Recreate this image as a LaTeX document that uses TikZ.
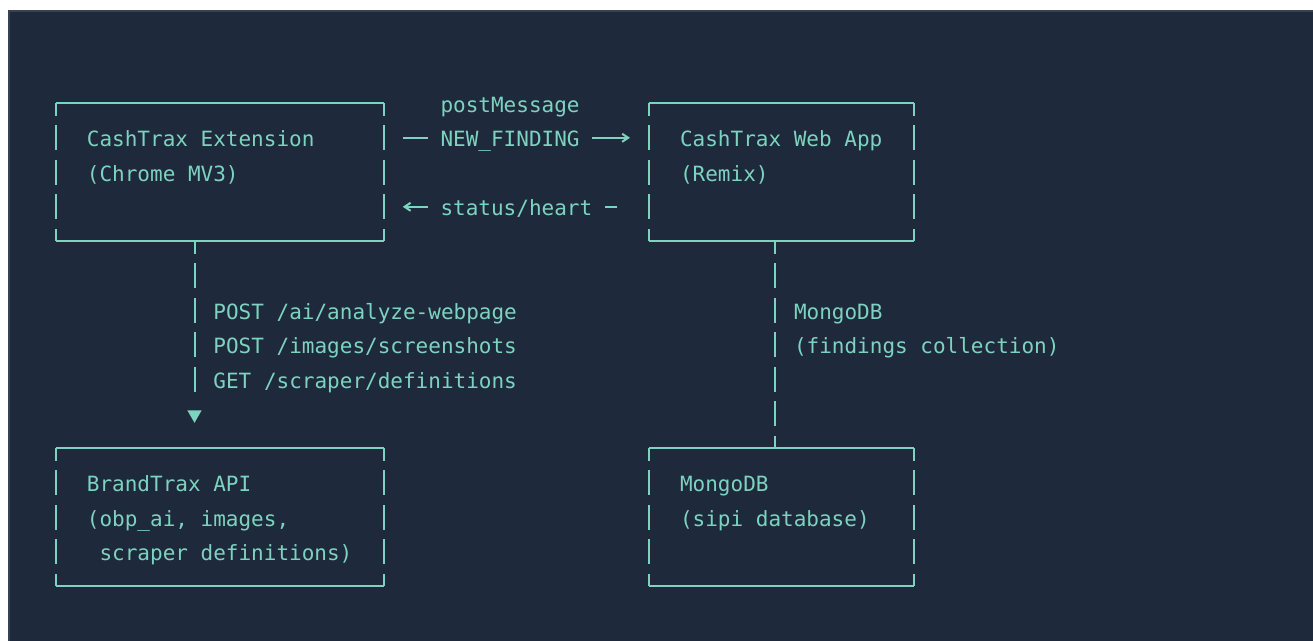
\documentclass[tikz,border=0pt]{standalone}
\usepackage{fontspec}
\setmonofont{DejaVu Sans Mono}
\usetikzlibrary{arrows.meta,shapes.geometric}

\definecolor{panel}{HTML}{1E293B}
\definecolor{panelrim}{HTML}{364152}
\definecolor{mint}{HTML}{7DD3C0}

\newcommand{\rs}{\rule[-4.175pt]{0pt}{17.25pt}}

\begin{document}
\begin{tikzpicture}[x=0.5pt,y=-0.5pt,
    every node/.style={font=\ttfamily\fontsize{10.5pt}{17.25pt}\selectfont, text=mint, inner sep=0pt, outer sep=0pt},
    sysbox/.style={minimum height=69pt, inner xsep=15.6pt, align=flush left},
    msg/.style={inner xsep=6.31pt, anchor=west},
    note/.style={anchor=west, align=left},
    wire/.style={draw=mint, line width=1pt},
    vdash/.style={dash pattern=on 12.5pt off 4.75pt, dash phase=6.25pt},
    tip/.style={-{Straight Barb[length=3pt,width=4pt]}}]
    \useasboundingbox (0,0) rectangle (1313,641);
    \fill[white] (0,0) rectangle (1313,641);
    \filldraw[fill=panel, draw=panelrim, line width=1pt] (8.5,11) rectangle (1330,660);

    % boxes
    \node[sysbox, text width=132.85pt] (ext) at (219.75,172.3) {\rs CashTrax Extension\\\rs(Chrome MV3)\\\rs};
    \node[sysbox, text width=101.31pt] (web) at (781.35,172.3) {\rs CashTrax Web App\\\rs(Remix)\\\rs};
    \node[sysbox, text width=132.85pt] (api) at (219.75,517.3) {\rs BrandTrax API\\\rs(obp\_ai, images,\\\rs\hphantom{(}scraper definitions)};
    \node[sysbox, text width=101.31pt] (db) at (781.35,517.3) {\rs MongoDB\\\rs(sipi database)\\\rs};
    \foreach \b in {ext,web,api,db}{
        \draw[wire] (\b.north west) -- (\b.north east);
        \draw[wire] (\b.south west) -- (\b.south east);
        \draw[wire,vdash] (\b.north west) -- (\b.south west);
        \draw[wire,vdash] (\b.north east) -- (\b.south east);
    }

    % messages between extension and web app
    \node[msg] (post) at (427.9,103.3) {\rs postMessage};
    \node[msg] (nf) at (427.9,137.8) {\rs NEW\_FINDING};
    \node[msg] (sh) at (427.9,206.8) {\rs status/heart};
    \draw[wire, shorten <=9.5pt] (ext.east |- nf) -- (nf.west);
    \draw[wire, tip, shorten >=9.45pt] (nf.east) -- (web.west |- nf);
    \draw[wire, shorten <=15.77pt] (web.west |- sh) -- (sh.east);
    \draw[wire, tip, shorten >=9.5pt] (sh.west) -- (ext.east |- sh);

    % extension -> api
    \node[fill=mint, regular polygon, regular polygon sides=3, shape border rotate=180, minimum size=8.3pt] (down) at (194.5,414.5) {};
    \draw[wire, vdash, shorten >=8pt] (ext.south -| down) -- (down.north);
    \node[note] (calls) at (213.46,344.8) {\rs POST /ai/analyze-webpage\\\rs POST /images/screenshots\\\rs GET /scraper/definitions};

    % web app -> database
    \coordinate (dbcol) at (775,0);
    \draw[wire, vdash] (web.south -| dbcol) -- (db.north -| dbcol);
    \node[note] (store) at (794,327.55) {\rs MongoDB\\\rs(findings collection)};
\end{tikzpicture}
\end{document}
